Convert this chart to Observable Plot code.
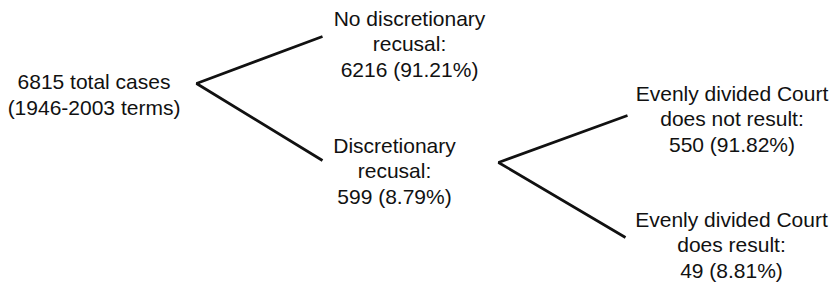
<!DOCTYPE html>
<html>
<head>
<meta charset="utf-8">
<script src="https://cdn.jsdelivr.net/npm/d3@7"></script>
<script src="https://cdn.jsdelivr.net/npm/@observablehq/plot@0.6"></script>
<style>
  html, body { margin: 0; padding: 0; background: #fff; }
</style>
</head>
<body>
<div id="chart"></div>
<script>
// ---- data ----
const nodeIds = ["root", "noRecusal", "recusal", "notDivided", "divided"];
const nodeParents = [null, "root", "root", "recusal", "recusal"];
const nodeCaptions = [
  ["total cases", "(1946-2003 terms)"],
  ["No discretionary", "recusal:"],
  ["Discretionary", "recusal:"],
  ["Evenly divided Court", "does not result:"],
  ["Evenly divided Court", "does result:"]
];
const nodeCounts = [6815, 6216, 599, 550, 49];
const nodePercents = [null, "91.21%", "8.79%", "91.82%", "8.81%"];

// ---- layout (diagram geometry, separate from data) ----
const layout = {
  root:       {tx: 93.5,  ty: 114, vx: 196, vy: 83},
  noRecusal:  {tx: 409,   ty: 76,  ax: 322, ay: 36},
  recusal:    {tx: 394,   ty: 203, ax: 322, ay: 160, vx: 498, vy: 162},
  notDivided: {tx: 731.5, ty: 151, ax: 627, ay: 115},
  divided:    {tx: 731,   ty: 277, ax: 625, ay: 237}
};

const nodes = nodeIds.map((id, i) => {
  const text = i === 0
    ? `${nodeCounts[i]} ${nodeCaptions[i][0]}\n${nodeCaptions[i][1]}`
    : `${nodeCaptions[i].join("\n")}\n${nodeCounts[i]} (${nodePercents[i]})`;
  return {id, parent: nodeParents[i], text, x: layout[id].tx, y: layout[id].ty};
});

// branch polylines: first child anchor -> parent vertex -> second child anchor
const branchPts = [];
for (const p of nodeIds) {
  const kids = nodeIds.filter((id, i) => nodeParents[i] === p);
  if (kids.length < 2) continue;
  const v = layout[p];
  branchPts.push({z: p, x: layout[kids[0]].ax, y: layout[kids[0]].ay});
  branchPts.push({z: p, x: v.vx, y: v.vy});
  branchPts.push({z: p, x: layout[kids[1]].ax, y: layout[kids[1]].ay});
}

const chart = Plot.plot({
  width: 833,
  height: 283,
  margin: 0,
  x: {type: "identity", axis: null},
  y: {type: "identity", axis: null},
  style: {background: "#fff", fontFamily: "'Liberation Sans', Arial, Helvetica, sans-serif", overflow: "visible"},
  marks: [
    Plot.line(branchPts, {x: "x", y: "y", z: "z", stroke: "#111", strokeWidth: 2.7, strokeLinejoin: "miter", strokeLinecap: "butt", curve: "linear"}),
    Plot.text(nodes, {x: "x", y: "y", text: "text", fontSize: 21, lineHeight: 1.21, lineAnchor: "bottom", textAnchor: "middle", fill: "#111"})
  ]
});
document.getElementById("chart").appendChild(chart);
</script>
</body>
</html>
